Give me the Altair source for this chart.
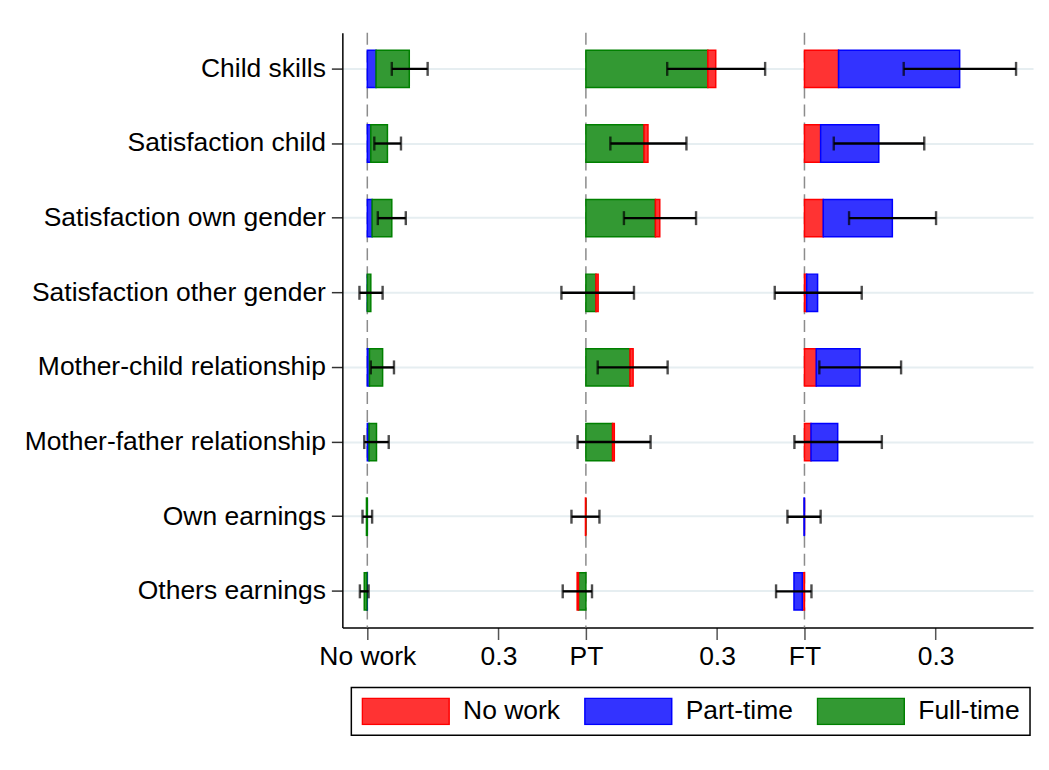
import altair as alt
import pandas as pd

categories = [
    "Child skills",
    "Satisfaction child",
    "Satisfaction own gender",
    "Satisfaction other gender",
    "Mother-child relationship",
    "Mother-father relationship",
    "Own earnings",
    "Others earnings",
]
series_names = ["No work", "Part-time", "Full-time"]
fill_colors = ["#ff3333", "#3333ff", "#339933"]
stroke_colors = ["#ff0000", "#0000ff", "#008000"]

panel_offsets = [0.0, 0.5, 1.0]

# Panel "No work": Part-time (inner), Full-time (outer)
nw_parttime = [0.020, 0.008, 0.011, 0.0, 0.005, 0.004, 0.0, -0.001]
nw_fulltime = [0.076, 0.038, 0.045, 0.008, 0.030, 0.017, -0.002, -0.006]
nw_ci_low = [0.056, 0.016, 0.024, -0.018, 0.008, -0.007, -0.011, -0.017]
nw_ci_high = [0.138, 0.077, 0.088, 0.035, 0.061, 0.049, 0.011, 0.003]

# Panel "PT": Full-time (inner), No work (outer)
pt_fulltime = [0.279, 0.133, 0.159, 0.023, 0.101, 0.061, 0.0, -0.017]
pt_nowork = [0.018, 0.009, 0.010, 0.005, 0.007, 0.004, -0.001, -0.003]
pt_ci_low = [0.186, 0.056, 0.087, -0.056, 0.027, -0.019, -0.033, -0.053]
pt_ci_high = [0.410, 0.230, 0.252, 0.110, 0.187, 0.148, 0.031, 0.014]

# Panel "FT": No work (inner), Part-time (outer)
ft_nowork = [0.078, 0.037, 0.043, 0.005, 0.027, 0.015, 0.0, -0.005]
ft_parttime = [0.277, 0.133, 0.158, 0.025, 0.100, 0.061, -0.001, -0.019]
ft_ci_low = [0.227, 0.067, 0.102, -0.068, 0.034, -0.023, -0.039, -0.065]
ft_ci_high = [0.484, 0.274, 0.301, 0.131, 0.221, 0.177, 0.037, 0.016]

tick_values = [0.0, 0.3, 0.5, 0.8, 1.0, 1.3]
tick_labels = ["No work", "0.3", "PT", "0.3", "FT", "0.3"]

panels = [
    (panel_offsets[0], "Part-time", nw_parttime, "Full-time", nw_fulltime, nw_ci_low, nw_ci_high),
    (panel_offsets[1], "Full-time", pt_fulltime, "No work", pt_nowork, pt_ci_low, pt_ci_high),
    (panel_offsets[2], "No work", ft_nowork, "Part-time", ft_parttime, ft_ci_low, ft_ci_high),
]

bar_rows, err_rows = [], []
k = 0
for off, s1, v1, s2, v2, lo, hi in panels:
    for i, cat in enumerate(categories):
        bar_rows.append({"cat": cat, "series": s1, "start": off, "end": off + v1[i], "k": k}); k += 1
        bar_rows.append({"cat": cat, "series": s2, "start": off + v1[i], "end": off + v1[i] + v2[i], "k": k}); k += 1
        err_rows.append({"cat": cat, "lo": off + lo[i], "hi": off + hi[i]})
bars_df = pd.DataFrame(bar_rows)
err_df = pd.DataFrame(err_rows)
ref_df = pd.DataFrame({"off": panel_offsets})

FONT = "Liberation Sans"
FS = 26.5
label_expr = " : ".join(
    f"abs(datum.value - {v}) < 1e-6 ? '{l}'" for v, l in zip(tick_values, tick_labels)
) + " : ''"

xscale = alt.Scale(domain=[-0.0571, 1.5228], nice=False, zero=False)
x_axis = alt.Axis(values=tick_values, labelExpr=label_expr, title=None, grid=False,
                  tickSize=12, tickColor="#555555", tickWidth=1.5,
                  domainColor="black", domainWidth=1.5,
                  labelFontSize=FS, labelFont=FONT, labelColor="black",
                  labelPadding=4, labelFlush=False, labelOverlap=False)
yenc = alt.Y("cat:N", sort=categories,
             scale=alt.Scale(paddingInner=0.5, paddingOuter=0.235),
             axis=alt.Axis(title=None, grid=True, gridColor="#e6eef1", gridWidth=2,
                           tickSize=11, tickColor="#333333", tickWidth=1.5,
                           domainColor="black", domainWidth=1.5,
                           labelFontSize=FS, labelFont=FONT, labelColor="black",
                           labelPadding=6, labelLimit=0))

leg = alt.Legend(title=None, orient="none", legendX=9, legendY=656,
                 direction="horizontal", columns=3,
                 symbolType="M-1,-0.3H1V0.3H-1Z", symbolSize=7569,
                 symbolStrokeWidth=1.5, clipHeight=28,
                 labelFontSize=FS, labelFont=FONT, labelColor="black",
                 labelOffset=13, columnPadding=23, padding=10,
                 strokeColor="black", fillColor="white", labelLimit=0)

rules = alt.Chart(ref_df).mark_rule(strokeDash=[12, 6], color="#8c8c8c", strokeWidth=1.5).encode(
    x=alt.X("off:Q", scale=xscale, axis=x_axis)
)

bars = alt.Chart(bars_df).mark_bar(strokeWidth=1.5, fillOpacity=1).encode(
    x=alt.X("start:Q", scale=xscale, axis=x_axis),
    x2="end:Q",
    y=yenc,
    fill=alt.Fill("series:N", scale=alt.Scale(domain=series_names, range=fill_colors), legend=leg),
    stroke=alt.Stroke("series:N", scale=alt.Scale(domain=series_names, range=stroke_colors), legend=leg),
    order=alt.Order("k:Q"),
)

err = alt.Chart(err_df).mark_rule(color="black", strokeWidth=2.4).encode(
    x=alt.X("lo:Q", scale=xscale, axis=x_axis),
    x2="hi:Q",
    y=yenc,
)

caps = alt.Chart(err_df).transform_fold(["lo", "hi"], as_=["which", "xv"]).mark_tick(
    color="black", thickness=2.4, size=14
).encode(
    x=alt.X("xv:Q", scale=xscale, axis=x_axis),
    y=yenc,
)

chart = alt.layer(rules, bars, err, caps).properties(
    width=692, height=596,
    padding={"left": 335, "top": 24, "right": 8, "bottom": 130},
    autosize=alt.AutoSizeParams(type="none"),
    background="white",
).configure_view(stroke=None).configure_legend(strokeWidth=1.5)

chart.save("out.html", embed_options={"renderer": "svg", "actions": False})
